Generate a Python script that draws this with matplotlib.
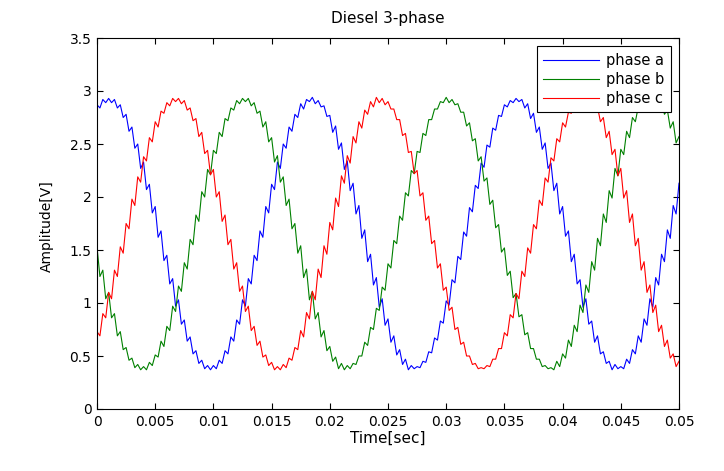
import matplotlib
matplotlib.use('Agg')
import matplotlib.pyplot as plt
import numpy as np

plt.rcParams['font.family'] = ['DejaVu Sans']

sample_step = 0.00025  # seconds between samples

phase_a = [
    2.87, 2.84, 2.92, 2.89, 2.93, 2.89, 2.92, 2.84, 2.87, 2.75,
    2.78, 2.62, 2.66, 2.46, 2.50, 2.27, 2.33, 2.07, 2.12, 1.85,
    1.91, 1.62, 1.68, 1.40, 1.45, 1.18, 1.23, 0.97, 1.03, 0.80,
    0.84, 0.64, 0.68, 0.52, 0.55, 0.43, 0.46, 0.38, 0.41, 0.37,
    0.41, 0.38, 0.46, 0.43, 0.55, 0.52, 0.68, 0.64, 0.84, 0.80,
    1.03, 0.97, 1.23, 1.18, 1.45, 1.40, 1.68, 1.62, 1.91, 1.85,
    2.12, 2.07, 2.33, 2.27, 2.50, 2.46, 2.66, 2.62, 2.78, 2.75,
    2.88, 2.83, 2.92, 2.90, 2.94, 2.88, 2.91, 2.85, 2.86, 2.76,
    2.77, 2.61, 2.67, 2.45, 2.51, 2.26, 2.34, 2.06, 2.13, 1.84,
    1.92, 1.61, 1.69, 1.39, 1.46, 1.17, 1.24, 0.96, 1.04, 0.79,
    0.85, 0.63, 0.69, 0.51, 0.56, 0.42, 0.47, 0.37, 0.41, 0.38,
    0.40, 0.39, 0.45, 0.44, 0.54, 0.53, 0.67, 0.65, 0.83, 0.81,
    1.02, 0.98, 1.22, 1.19, 1.44, 1.41, 1.67, 1.63, 1.90, 1.86,
    2.11, 2.08, 2.32, 2.28, 2.49, 2.47, 2.65, 2.63, 2.77, 2.76,
    2.87, 2.85, 2.91, 2.89, 2.93, 2.90, 2.92, 2.84, 2.88, 2.74,
    2.79, 2.61, 2.66, 2.45, 2.51, 2.27, 2.32, 2.06, 2.13, 1.84,
    1.91, 1.63, 1.68, 1.39, 1.46, 1.18, 1.22, 0.96, 1.04, 0.80,
    0.83, 0.63, 0.69, 0.52, 0.54, 0.43, 0.45, 0.37, 0.42, 0.38,
    0.40, 0.38, 0.47, 0.43, 0.56, 0.52, 0.69, 0.63, 0.85, 0.79,
    1.04, 0.96, 1.24, 1.17, 1.46, 1.39, 1.69, 1.61, 1.92, 1.84,
    2.13,
]

phase_b = [
    1.53, 1.25, 1.31, 1.04, 1.10, 0.86, 0.90, 0.69, 0.73, 0.56,
    0.58, 0.46, 0.48, 0.39, 0.42, 0.37, 0.40, 0.37, 0.44, 0.41,
    0.51, 0.49, 0.64, 0.59, 0.78, 0.74, 0.97, 0.92, 1.16, 1.11,
    1.38, 1.32, 1.60, 1.55, 1.83, 1.77, 2.05, 2.00, 2.26, 2.21,
    2.44, 2.41, 2.61, 2.57, 2.74, 2.72, 2.84, 2.82, 2.91, 2.88,
    2.93, 2.90, 2.93, 2.86, 2.89, 2.79, 2.81, 2.66, 2.71, 2.52,
    2.56, 2.33, 2.39, 2.14, 2.19, 1.92, 1.98, 1.70, 1.75, 1.47,
    1.54, 1.24, 1.32, 1.03, 1.11, 0.85, 0.91, 0.68, 0.74, 0.55,
    0.59, 0.45, 0.49, 0.38, 0.43, 0.37, 0.41, 0.38, 0.43, 0.42,
    0.50, 0.50, 0.63, 0.60, 0.77, 0.75, 0.95, 0.93, 1.15, 1.12,
    1.37, 1.33, 1.59, 1.56, 1.82, 1.78, 2.04, 2.01, 2.25, 2.22,
    2.43, 2.42, 2.60, 2.58, 2.73, 2.73, 2.83, 2.83, 2.90, 2.89,
    2.94, 2.89, 2.92, 2.87, 2.88, 2.80, 2.80, 2.67, 2.70, 2.53,
    2.55, 2.34, 2.38, 2.15, 2.18, 1.93, 1.97, 1.71, 1.74, 1.48,
    1.52, 1.26, 1.30, 1.05, 1.09, 0.87, 0.89, 0.70, 0.72, 0.57,
    0.57, 0.47, 0.47, 0.40, 0.41, 0.38, 0.39, 0.37, 0.45, 0.40,
    0.52, 0.48, 0.65, 0.59, 0.79, 0.73, 0.98, 0.91, 1.17, 1.10,
    1.39, 1.31, 1.61, 1.54, 1.84, 1.76, 2.06, 1.99, 2.27, 2.20,
    2.45, 2.40, 2.62, 2.56, 2.75, 2.71, 2.85, 2.81, 2.92, 2.87,
    2.92, 2.91, 2.94, 2.85, 2.90, 2.78, 2.82, 2.65, 2.71, 2.51,
    2.57,
]

phase_c = [
    0.73, 0.69, 0.90, 0.86, 1.10, 1.04, 1.31, 1.25, 1.53, 1.47,
    1.75, 1.70, 1.98, 1.92, 2.19, 2.14, 2.38, 2.34, 2.56, 2.52,
    2.71, 2.66, 2.81, 2.79, 2.89, 2.86, 2.93, 2.90, 2.93, 2.88,
    2.91, 2.82, 2.84, 2.72, 2.74, 2.57, 2.61, 2.41, 2.44, 2.21,
    2.26, 2.00, 2.05, 1.77, 1.83, 1.55, 1.60, 1.32, 1.38, 1.11,
    1.16, 0.92, 0.97, 0.74, 0.78, 0.60, 0.64, 0.49, 0.51, 0.41,
    0.44, 0.37, 0.40, 0.37, 0.42, 0.39, 0.48, 0.46, 0.58, 0.56,
    0.74, 0.68, 0.91, 0.85, 1.11, 1.03, 1.32, 1.24, 1.54, 1.46,
    1.76, 1.69, 1.99, 1.91, 2.20, 2.13, 2.39, 2.32, 2.57, 2.51,
    2.71, 2.65, 2.82, 2.78, 2.90, 2.85, 2.94, 2.89, 2.93, 2.87,
    2.90, 2.83, 2.83, 2.73, 2.73, 2.58, 2.60, 2.42, 2.43, 2.22,
    2.25, 2.01, 2.04, 1.78, 1.82, 1.56, 1.59, 1.33, 1.37, 1.12,
    1.15, 0.93, 0.96, 0.75, 0.77, 0.61, 0.63, 0.50, 0.50, 0.42,
    0.43, 0.38, 0.39, 0.38, 0.41, 0.40, 0.47, 0.47, 0.57, 0.57,
    0.72, 0.69, 0.89, 0.86, 1.09, 1.04, 1.30, 1.25, 1.52, 1.47,
    1.74, 1.70, 1.97, 1.92, 2.18, 2.14, 2.37, 2.34, 2.55, 2.52,
    2.70, 2.66, 2.80, 2.79, 2.88, 2.86, 2.92, 2.90, 2.92, 2.88,
    2.90, 2.82, 2.85, 2.71, 2.75, 2.56, 2.62, 2.40, 2.45, 2.20,
    2.27, 1.99, 2.06, 1.76, 1.84, 1.54, 1.61, 1.31, 1.39, 1.10,
    1.17, 0.91, 0.98, 0.73, 0.79, 0.59, 0.65, 0.48, 0.52, 0.40,
    0.45,
]

series_labels = ['phase a', 'phase b', 'phase c']
series_colors = [(0, 0, 1), (0, 0.5, 0), (1, 0, 0)]

x_ticks = [0, 0.005, 0.01, 0.015, 0.02, 0.025, 0.03, 0.035, 0.04, 0.045, 0.05]
x_tick_labels = ['0', '0.005', '0.01', '0.015', '0.02', '0.025', '0.03',
                 '0.035', '0.04', '0.045', '0.05']
y_ticks = [0, 0.5, 1, 1.5, 2, 2.5, 3, 3.5]
y_tick_labels = ['0', '0.5', '1', '1.5', '2', '2.5', '3', '3.5']

title = 'Diesel 3-phase'
x_label = 'Time[sec]'
y_label = 'Amplitude[V]'

t = np.arange(len(phase_a)) * sample_step

W, H = 724, 471
fig = plt.figure(figsize=(W / 100, H / 100), dpi=100)
ax = fig.add_axes([97 / W, (H - 409) / H, 582 / W, 371 / H])

for vals, lab, col in zip([phase_a, phase_b, phase_c], series_labels, series_colors):
    ax.plot(t, vals, color=col, lw=0.8, label=lab)

ax.set_xlim(0, 0.05)
ax.set_ylim(0, 3.5)
ax.set_xticks(x_ticks)
ax.set_xticklabels(x_tick_labels)
ax.set_yticks(y_ticks)
ax.set_yticklabels(y_tick_labels)
ax.tick_params(direction='in', top=True, right=True, length=4, width=0.8,
               labelsize=10, pad=4, colors='black')
for s in ax.spines.values():
    s.set_linewidth(0.8)
    s.set_color('black')

fig.text(388 / W, 1 - 18 / H, title, ha='center', va='center', fontsize=11)
fig.text(388 / W, 1 - 438 / H, x_label, ha='center', va='center', fontsize=11)
fig.text(47 / W, 1 - 226 / H, y_label, ha='center', va='center', rotation=90, fontsize=10)

leg = ax.legend(loc='upper right', bbox_to_anchor=(0.986, 0.978), borderaxespad=0,
                fancybox=False, edgecolor='black', framealpha=1, handlelength=3.8,
                handletextpad=0.5, labelspacing=0.28, borderpad=0.45, fontsize=10.5)
leg.get_frame().set_linewidth(0.8)

fig.savefig('out.png', dpi=100)
